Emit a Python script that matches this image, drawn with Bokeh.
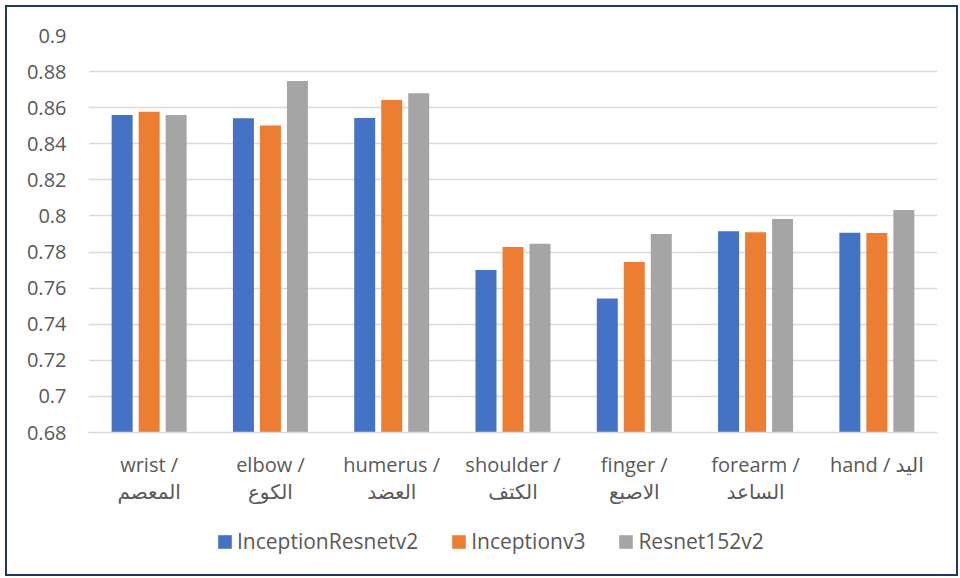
from bokeh.plotting import figure
from bokeh.layouts import column
from bokeh.models import FactorRange, FixedTicker, Legend, LegendItem, ColumnDataSource
from bokeh.transform import dodge
from bokeh.embed import file_html
from bokeh.resources import INLINE

categories = ["wrist /\nالمعصم", "elbow /\nالكوع", "humerus /\nالعضد", "shoulder /\nالكتف",
              "finger /\nالاصبع", "forearm /\nالساعد", "hand / اليد"]
inception_resnet_v2 = [0.856, 0.8542, 0.8543, 0.770, 0.7543, 0.7915, 0.7907]
inception_v3 = [0.8577, 0.8501, 0.8643, 0.7828, 0.7745, 0.791, 0.7905]
resnet152_v2 = [0.856, 0.8748, 0.868, 0.7846, 0.790, 0.7983, 0.8033]
series_names = ["InceptionResnetv2", "Inceptionv3", "Resnet152v2"]
colors = ["#4472C4", "#ED7D31", "#A5A5A5"]
y_ticks = [0.68, 0.70, 0.72, 0.74, 0.76, 0.78, 0.80, 0.82, 0.84, 0.86, 0.88, 0.90]
y_labels = ["0.68", "0.7", "0.72", "0.74", "0.76", "0.78", "0.8", "0.82", "0.84", "0.86", "0.88", "0.9"]

FONT = "Open Sans, DejaVu Sans"
TXT = "#595959"

source = ColumnDataSource(dict(cat=categories, s0=inception_resnet_v2, s1=inception_v3, s2=resnet152_v2))

p = figure(x_range=FactorRange(*categories), y_range=(0.68, 0.9),
           width=949, height=505, output_backend="svg", toolbar_location=None,
           min_border_left=81, min_border_right=19, min_border_top=28, min_border_bottom=80)
p.x_range.range_padding = 0
p.outline_line_color = None
p.background_fill_color = "white"
p.border_fill_color = "white"

offsets = [-0.2226, 0.0, 0.2226]
cols = ["s0", "s1", "s2"]
for i, col in enumerate(cols):
    p.vbar(x=dodge("cat", offsets[i], range=p.x_range), top=col, bottom=0.68, width=0.173,
           source=source, fill_color=colors[i], line_color=None)

p.yaxis.ticker = FixedTicker(ticks=y_ticks)
p.yaxis.major_label_overrides = {t: l for t, l in zip(y_ticks, y_labels)}
p.yaxis.axis_line_color = None
p.yaxis.major_tick_line_color = None
p.yaxis.minor_tick_line_color = None
p.yaxis.major_label_standoff = 16
p.yaxis.major_label_text_font = FONT
p.yaxis.major_label_text_font_size = "20px"
p.yaxis.major_label_text_color = TXT

p.xaxis.axis_line_color = "#D9D9D9"
p.xaxis.axis_line_width = 1.5
p.xaxis.major_tick_line_color = None
p.xaxis.minor_tick_line_color = None
p.xaxis.major_label_standoff = 12
p.xaxis.major_label_text_font = FONT
p.xaxis.major_label_text_font_size = "20px"
p.xaxis.major_label_text_color = TXT
p.xaxis.major_label_text_line_height = 1.0

p.xgrid.grid_line_color = None
p.ygrid.grid_line_color = "#D9D9D9"
p.ygrid.grid_line_width = 1.5

# legend strip
q = figure(width=949, height=62, output_backend="svg", toolbar_location=None,
           x_range=(0, 1), y_range=(0, 1), x_axis_type=None, y_axis_type=None,
           min_border_left=0, min_border_right=0, min_border_top=0, min_border_bottom=0)
q.outline_line_color = None
q.xgrid.grid_line_color = None
q.ygrid.grid_line_color = None
q.background_fill_color = "white"
q.border_fill_color = "white"
proxies = [q.vbar(x=col, top=col, width=0.01, source=source, fill_color=c, line_color=None, visible=False)
           for col, c in zip(cols, colors)]

legend = Legend(items=[LegendItem(label=n, renderers=[r]) for n, r in zip(series_names, proxies)],
                orientation="horizontal", location=(128, 19),
                glyph_width=17, glyph_height=17, label_standoff=4, spacing=32,
                padding=0, margin=0, border_line_color=None, background_fill_alpha=0,
                label_text_font=FONT, label_text_font_size="21px", label_text_color=TXT,
                label_height=20)
q.add_layout(legend, "center")

layout = column(p, q, spacing=0)
layout.styles = {"margin": "5px 0px 0px 5px", "border": "2px solid #1F3864"}

open("out.html", "w").write(file_html(layout, INLINE))
